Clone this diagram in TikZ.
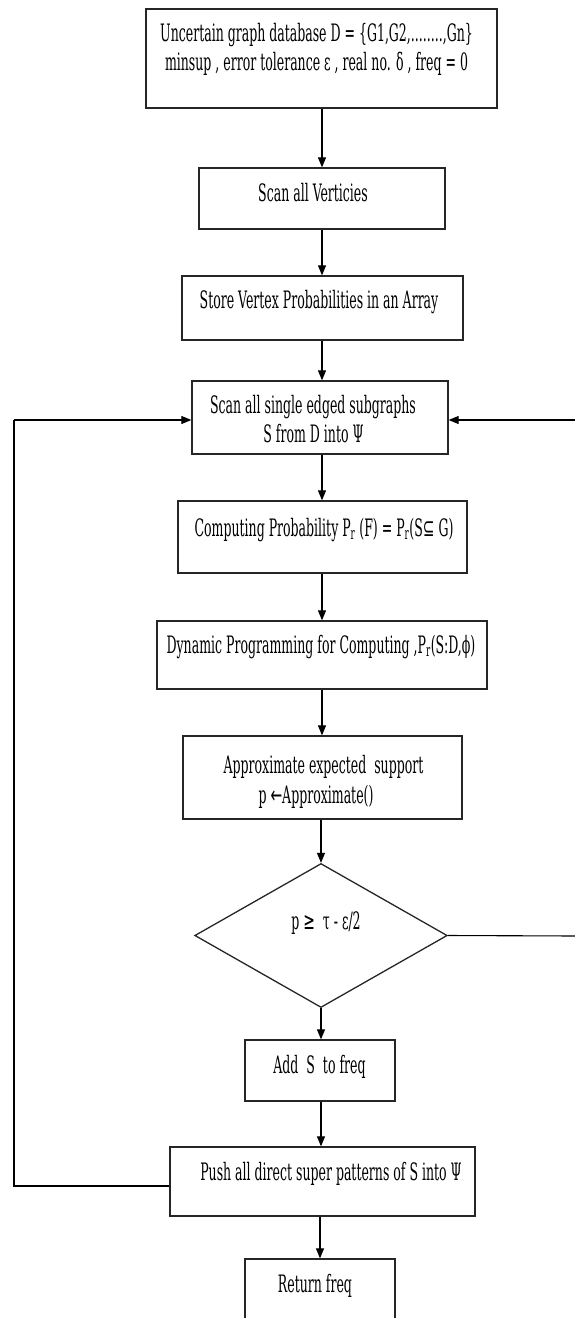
\documentclass[tikz,border=0pt]{standalone}
\usepackage{fontspec}
\setmainfont{DejaVu Serif Condensed}[FakeStretch=0.58]
\newfontfamily\symf{DejaVu Sans}[FakeStretch=0.58]
\usetikzlibrary{arrows.meta,shapes.geometric}
\begin{document}
\begin{tikzpicture}[x=1pt,y=-1pt,
  boxst/.style={draw=black!85,line width=1.3pt,inner sep=0pt,rectangle},
  dmd/.style={draw=black!85,line width=1.3pt,inner sep=0pt,diamond},
  txt/.style={anchor=base,inner sep=0pt,font=\fontsize{24}{30}\selectfont},
  arr/.style={draw=black,line width=1.1pt,-{Triangle[length=10pt,width=8pt]}},
  ln/.style={draw=black,line width=1.1pt}]
\useasboundingbox (0,0) rectangle (574,1318);
% boxes
\node[boxst,minimum width=351pt,minimum height=99pt] (b1) at (321.5,58.5) {};
\node[boxst,minimum width=246pt,minimum height=61pt] (b2) at (322,198.5) {};
\node[boxst,minimum width=281pt,minimum height=64pt] (b3) at (322.5,308) {};
\node[boxst,minimum width=256pt,minimum height=73pt] (b4) at (320,417.5) {};
\node[boxst,minimum width=289pt,minimum height=72pt] (b5) at (322.5,537) {};
\node[boxst,minimum width=330pt,minimum height=68pt] (b6) at (322,655) {};
\node[boxst,minimum width=279pt,minimum height=83pt] (b7) at (322.5,777.5) {};
\node[dmd,minimum width=252.5pt,minimum height=144pt] (d) at (321,935.5) {};
\node[boxst,minimum width=150pt,minimum height=61pt] (b8) at (320,1070.5) {};
\node[boxst,minimum width=305pt,minimum height=69pt] (b9) at (322.5,1181.5) {};
\node[boxst,minimum width=150pt,minimum height=72pt] (b10) at (320,1295) {};
% texts
\node[txt] (t1a) at (316.5,41) {Uncertain graph database D = \{G1,G2,........,Gn\}};
\node[txt] (t1b) at (316.5,70) {minsup , error tolerance ε , real no. δ , freq = 0};
\node[txt] (t2) at (313,201) {Scan all Verticies};
\node[txt] (t3) at (319,308) {Store Vertex Probabilities in an Array};
\node[txt] (t4a) at (313,413) {Scan all single edged subgraphs};
\node[txt] (t4b) at (313.5,442) {S from D into Ψ};
\node[txt] (t5) at (324,536) {Computing Probability P\textsubscript{r} (F) = P\textsubscript{r}(S{\symf ⊆} G)};
\node[txt] (t6) at (321,653) {Dynamic Programming for Computing ,P\textsubscript{r}(S:D,ϕ)};
\node[txt] (t7a) at (323.5,773) {Approximate expected \ support};
\node[txt] (t7b) at (316,803) {p {\symf ←}Approximate()};
\node[txt] (td) at (326,929) {p {\symf ≥} \ τ - ε/2};
\node[txt] (t8) at (319.5,1073) {Add \ S \ to freq};
\node[txt] (t9) at (331,1180) {Push all direct super patterns of S into Ψ};
\node[txt] (t10) at (315,1292) {Return freq};
% connectors
\draw[arr] (b1.south -| 322,0) -- (b2.north -| 322,0);
\draw[arr] (b2.south -| 322,0) -- (b3.north -| 322,0);
\draw[arr] (b3.south -| 322,0) -- (b4.north -| 322,0);
\draw[arr] (b4.south -| 322,0) -- (b5.north -| 322,0);
\draw[arr] (b5.south -| 322,0) -- (b6.north -| 322,0);
\draw[arr] (b6.south -| 322,0) -- (b7.north -| 322,0);
\draw[arr] (b7.south -| d.north) -- (d.north);
\draw[arr] (d.south) -- (b8.north -| d.south);
\draw[arr] (b8.south -| 321,0) -- (b9.north -| 321,0);
\draw[arr] (b9.south -| 320,0) -- (b10.north -| 320,0);
% loops
\coordinate (L1) at (14,1186);
\coordinate (L2) at (14,420);
\coordinate (R1) at (578,936);
\coordinate (R2) at (578,420);
\draw[ln] ([yshift=-4.5pt]b9.west) -- (L1) -- (L2);
\draw[arr] (L2) -- (L2 -| b4.west);
\draw[ln] (d.east) -- (R1) -- (R2);
\draw[arr] (R2) -- (R2 -| b4.east);
\end{tikzpicture}
\end{document}
